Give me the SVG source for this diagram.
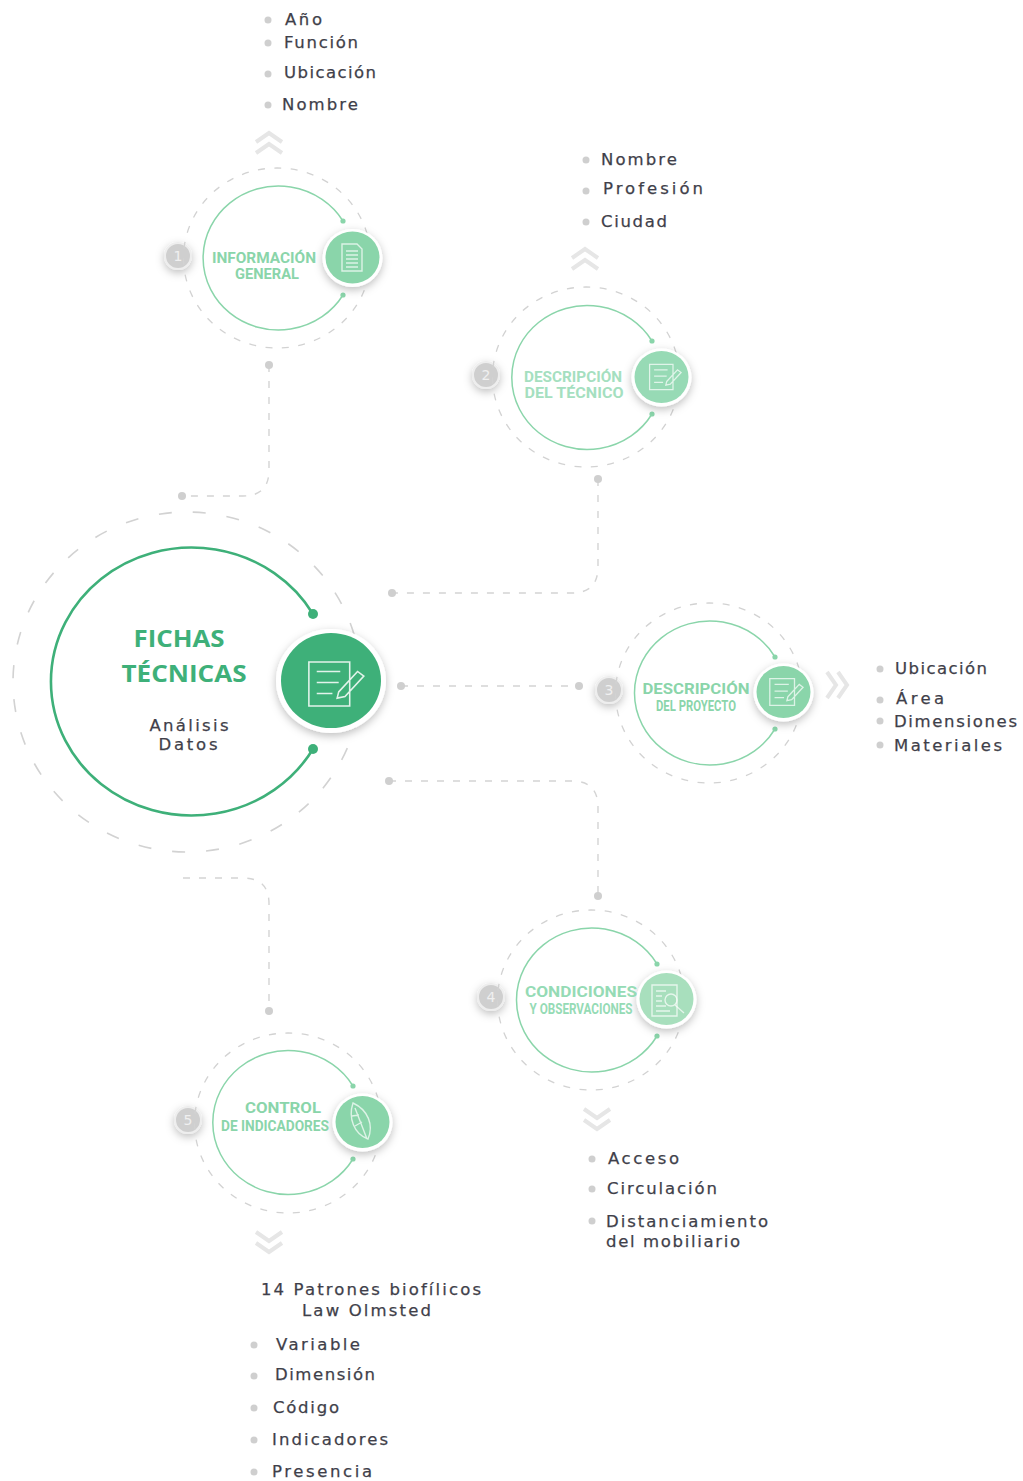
<svg xmlns="http://www.w3.org/2000/svg" width="1023" height="1481" viewBox="0 0 1023 1481">
<style>
text{font-family:"DejaVu Sans","Liberation Sans",sans-serif}
.t{font-size:16.5px;fill:#3f3f4a;stroke:#3f3f4a;stroke-width:.25}
.h{font-family:"Roboto","Liberation Sans",sans-serif;font-weight:700;font-size:15.5px;fill:#8ad5aa;text-anchor:middle}
.c{fill:none;stroke:#d4d4d4;stroke-width:1.4;stroke-dasharray:7 9}
.o{fill:none;stroke:#d2d2d2;stroke-width:1.3;stroke-dasharray:7 9.5}
.a{fill:none;stroke:#8ad5aa;stroke-width:1.5}
.d{fill:#cfcfcf}
.i{fill:none;stroke:#fff;stroke-width:1.4;opacity:.7}
.s{fill:none;stroke:#e6e6e6;stroke-width:4}
.n{font-size:14px;fill:#f0f0f0;text-anchor:middle}
.g{fill:#8ad5aa}
.w{fill:#fff;filter:url(#sh)}
</style>
<defs>
<filter id="sh" x="-40%" y="-40%" width="190%" height="190%"><feDropShadow dx="0" dy="3" stdDeviation="4" flood-color="#000" flood-opacity=".25"/></filter>
<circle id="badge" r="13" fill="#cfcfcf" stroke="#eeeeee" stroke-width="2" filter="url(#sh)"/>
<path id="ch" class="s" d="M-13 0L0-9L13 0M-13 11L0 2L13 11"/>
<path id="note" d="M-16-14H10V14H-16ZM-11-8H4M-11-1H3M-11 6H-1M3 5L15-8L19-5L7 8L2 9Z"/>
</defs>
<g id="connectors">
<path class="c" d="M269 365V470Q269 496 243 496H182"/>
<circle class="d" cx="269" cy="365" r="4"/><circle class="d" cx="182" cy="496" r="4"/>
<path class="c" d="M598 479V567Q598 593 572 593H392"/>
<circle class="d" cx="598" cy="479" r="4"/><circle class="d" cx="392" cy="593" r="4"/>
<path class="c" d="M401 686H579"/>
<circle class="d" cx="401" cy="686" r="4"/><circle class="d" cx="579" cy="686" r="4"/>
<path class="c" d="M389 781H572Q598 781 598 807V896"/>
<circle class="d" cx="389" cy="781" r="4"/><circle class="d" cx="598" cy="896" r="4"/>
<path class="c" d="M183 878H243Q269 878 269 904V1011"/>
<circle class="d" cx="269" cy="1011" r="4"/>
</g>
<g id="main">
<ellipse cx="187" cy="682" rx="174" ry="170" fill="none" stroke="#d2d2d2" stroke-width="1.6" stroke-dasharray="13 21"/>
<path d="M313 614A140.6 134 0 1 0 313 749" fill="none" stroke="#3eb079" stroke-width="2.6"/>
<circle cx="313" cy="614" r="5" fill="#3eb079"/><circle cx="313" cy="749" r="5" fill="#3eb079"/>
<ellipse class="w" cx="331" cy="681" rx="55" ry="52"/>
<ellipse cx="331" cy="680.5" rx="50" ry="47.5" fill="#3eb079"/>
<use href="#note" transform="translate(334 684) scale(1.57)" fill="none" stroke="#fff" stroke-width="1" opacity=".85"/>
<text x="179" y="647" font-size="24" font-weight="700" text-anchor="middle" fill="#3eb079" style="font-family:'Open Sans','DejaVu Sans',sans-serif" textLength="91" lengthAdjust="spacingAndGlyphs">FICHAS</text>
<text x="184" y="682" font-size="24" font-weight="700" text-anchor="middle" fill="#3eb079" style="font-family:'Open Sans','DejaVu Sans',sans-serif" textLength="125" lengthAdjust="spacingAndGlyphs">TÉCNICAS</text>
<text class="t" x="189" y="731" text-anchor="middle" textLength="79">Análisis</text>
<text class="t" x="188" y="750" text-anchor="middle" textLength="59">Datos</text>
</g>
<g id="node1">
<use href="#badge" x="178" y="256"/><text class="n" x="178" y="261">1</text>
<ellipse class="o" cx="277" cy="258" rx="93.5" ry="90"/>
<path class="a" d="M343 221A75.3 72 0 1 0 343 295"/>
<circle class="g" cx="343" cy="221" r="2.6"/><circle class="g" cx="343" cy="295" r="2.6"/>
<ellipse class="w" cx="352.500" cy="258" rx="30" ry="29"/><ellipse class="g" cx="352.500" cy="257.500" rx="27" ry="26"/>
<path class="i" d="M342 244H357L362 249V271H342ZM346 251H358M346 255H358M346 259H358M346 263H358M346 267H358"/>
<text class="h" x="264" y="263" textLength="104" lengthAdjust="spacingAndGlyphs">INFORMACIÓN</text>
<text class="h" x="267" y="279" textLength="64" lengthAdjust="spacingAndGlyphs">GENERAL</text>
<use href="#ch" x="269" y="142"/>
<circle class="d" cx="268" cy="20" r="3.500"/><text class="t" x="285" y="25" textLength="37">Año</text>
<circle class="d" cx="268" cy="43" r="3.500"/><text class="t" x="284" y="48" textLength="74">Función</text>
<circle class="d" cx="268" cy="74" r="3.500"/><text class="t" x="284" y="77.500" textLength="92">Ubicación</text>
<circle class="d" cx="268" cy="105" r="3.500"/><text class="t" x="282" y="110" textLength="76">Nombre</text>
</g>
<g id="node2">
<use href="#badge" x="486" y="375"/><text class="n" x="486" y="380">2</text>
<ellipse class="o" cx="586" cy="377" rx="93.500" ry="90"/>
<path class="a" d="M652 341A75.3 72 0 1 0 652 414"/>
<circle class="g" cx="652" cy="341" r="2.6"/><circle class="g" cx="652" cy="414" r="2.6"/>
<ellipse class="w" cx="661.500" cy="377.500" rx="30" ry="29"/><ellipse cx="661.500" cy="377" rx="27" ry="26" fill="#97dab5"/>
<use href="#note" transform="translate(664 377) scale(.9)" class="i"/>
<text class="h" x="573" y="382" textLength="98" lengthAdjust="spacingAndGlyphs" style="fill:#a5dfc0">DESCRIPCIÓN</text>
<text class="h" x="574" y="398" textLength="99" lengthAdjust="spacingAndGlyphs" style="fill:#a5dfc0">DEL TÉCNICO</text>
<use href="#ch" x="585" y="258"/>
<circle class="d" cx="586" cy="160" r="3.500"/><text class="t" x="601" y="165" textLength="76">Nombre</text>
<circle class="d" cx="586" cy="191" r="3.500"/><text class="t" x="603" y="194" textLength="100">Profesión</text>
<circle class="d" cx="586" cy="222" r="3.500"/><text class="t" x="601" y="227" textLength="66">Ciudad</text>
</g>
<g id="node3">
<use href="#badge" x="609" y="690"/><text class="n" x="609" y="695">3</text>
<ellipse class="o" cx="709" cy="693" rx="93.500" ry="90"/>
<path class="a" d="M775 657A75.3 72 0 1 0 775 729"/>
<circle class="g" cx="775" cy="657" r="2.6"/><circle class="g" cx="775" cy="729" r="2.6"/>
<ellipse class="w" cx="783.500" cy="692.500" rx="30" ry="29"/><ellipse class="g" cx="783.500" cy="692" rx="27" ry="26"/>
<use href="#note" transform="translate(785 692) scale(.95)" class="i"/>
<text class="h" x="696" y="694" textLength="107" lengthAdjust="spacingAndGlyphs">DESCRIPCIÓN</text>
<text class="h" x="696" y="711" textLength="80" lengthAdjust="spacingAndGlyphs" style="font-size:14px">DEL PROYECTO</text>
<use href="#ch" transform="translate(838 685) rotate(90)"/>
<circle class="d" cx="880" cy="669" r="3.500"/><text class="t" x="895" y="674" textLength="92">Ubicación</text>
<circle class="d" cx="880" cy="700" r="3.500"/><text class="t" x="896" y="704" textLength="48">Área</text>
<circle class="d" cx="880" cy="721" r="3.500"/><text class="t" x="894" y="727" textLength="123">Dimensiones</text>
<circle class="d" cx="880" cy="745" r="3.500"/><text class="t" x="894" y="751" textLength="108">Materiales</text>
</g>
<g id="node4">
<use href="#badge" x="491" y="997"/><text class="n" x="491" y="1002">4</text>
<ellipse class="o" cx="591" cy="1000" rx="93.500" ry="90"/>
<path class="a" d="M657 964A75.3 72 0 1 0 657 1036"/>
<circle class="g" cx="657" cy="964" r="2.6"/><circle class="g" cx="657" cy="1036" r="2.6"/>
<ellipse class="w" cx="666.500" cy="999.500" rx="30" ry="29"/><ellipse cx="666.500" cy="999" rx="27" ry="26" fill="#a8dfbd"/>
<path class="i" d="M652 985H677V1016H652ZM656 991H666M656 996H662M656 1001H662M656 1006H666M656 1011H670"/>
<ellipse class="i" cx="671" cy="1000" rx="6" ry="6"/><path class="i" d="M675 1005L684 1013"/>
<text class="h" x="581" y="997" textLength="112" lengthAdjust="spacingAndGlyphs" style="fill:#95dbb5">CONDICIONES</text>
<text class="h" x="581" y="1014" textLength="103" lengthAdjust="spacingAndGlyphs" style="font-size:14px;fill:#95dbb5">Y OBSERVACIONES</text>
<use href="#ch" transform="translate(597 1120) rotate(180)"/>
<circle class="d" cx="592" cy="1159" r="3.500"/><text class="t" x="608" y="1164" textLength="71">Acceso</text>
<circle class="d" cx="592" cy="1189" r="3.500"/><text class="t" x="607" y="1194" textLength="110">Circulación</text>
<circle class="d" cx="592" cy="1221" r="3.500"/><text class="t" x="606" y="1227" textLength="162">Distanciamiento</text>
<text class="t" x="606" y="1247" textLength="134">del mobiliario</text>
</g>
<g id="node5">
<use href="#badge" x="188" y="1120"/><text class="n" x="188" y="1125">5</text>
<ellipse class="o" cx="288" cy="1123" rx="93.500" ry="90"/>
<path class="a" d="M353 1086A75.3 72 0 1 0 353 1159"/>
<circle class="g" cx="353" cy="1086" r="2.6"/><circle class="g" cx="353" cy="1159" r="2.6"/>
<ellipse class="w" cx="362.500" cy="1122.500" rx="30" ry="29"/><ellipse class="g" cx="362.500" cy="1122" rx="27" ry="26"/>
<path class="i" d="M353 1103C348 1118 354 1134 368 1139C374 1125 368 1110 353 1103ZM355 1108L367 1139M352 1116L359 1115M355 1126L362 1122"/>
<text class="h" x="283" y="1113" textLength="76" lengthAdjust="spacingAndGlyphs">CONTROL</text>
<text class="h" x="275" y="1131" textLength="108" lengthAdjust="spacingAndGlyphs" style="font-size:14px">DE INDICADORES</text>
<use href="#ch" transform="translate(269 1243) rotate(180)"/>
<text class="t" x="261" y="1295" textLength="220">14 Patrones biofílicos</text>
<text class="t" x="302" y="1316" textLength="129">Law Olmsted</text>
<circle class="d" cx="254" cy="1345" r="3.500"/><text class="t" x="276" y="1350" textLength="84">Variable</text>
<circle class="d" cx="254" cy="1376" r="3.500"/><text class="t" x="275" y="1380" textLength="100">Dimensión</text>
<circle class="d" cx="254" cy="1408" r="3.500"/><text class="t" x="273" y="1413" textLength="66">Código</text>
<circle class="d" cx="254" cy="1440" r="3.500"/><text class="t" x="272" y="1445" textLength="116">Indicadores</text>
<circle class="d" cx="254" cy="1472" r="3.500"/><text class="t" x="272" y="1477" textLength="100">Presencia</text>
</g>
</svg>
